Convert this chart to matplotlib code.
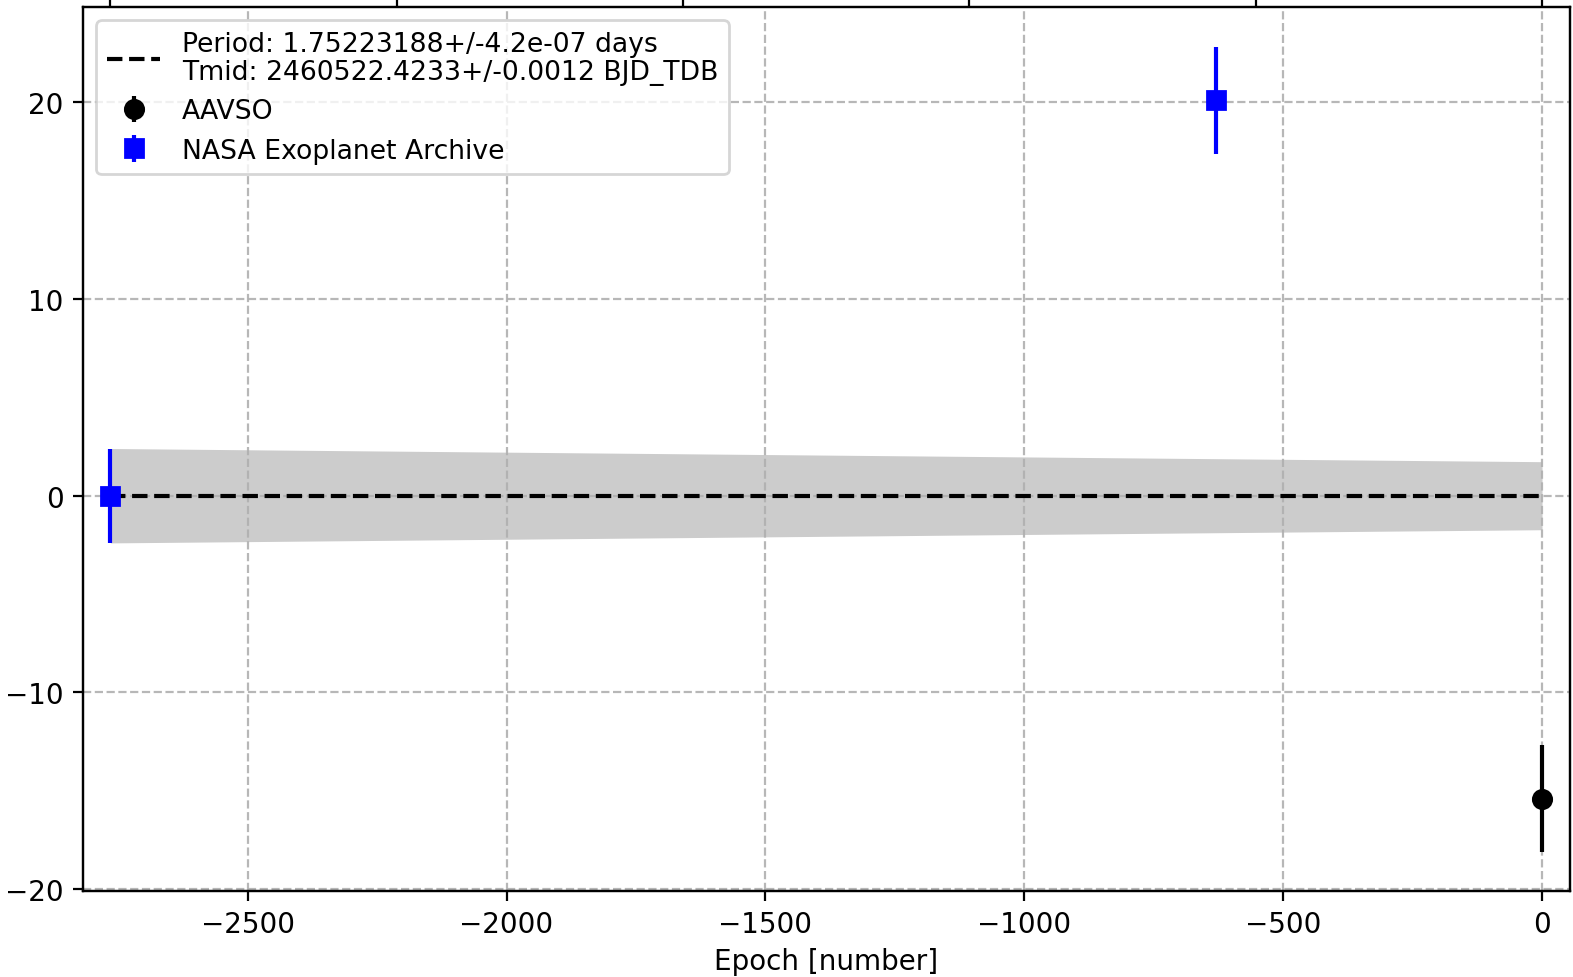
"""O-C diagram for the transit ephemeris fit."""

import matplotlib

matplotlib.use("Agg")
import matplotlib.pyplot as plt
import numpy as np

# observations (epoch, O-C in minutes, 1-sigma error in minutes)
aavso_epoch = [0]
aavso_oc = [-15.4]
aavso_err = [2.7]

nasa_epoch = [-2765, -629]
nasa_oc = [0.0, 20.1]
nasa_err = [2.4, 2.7]

# ephemeris uncertainty envelope at the ends of the data span
band_epoch = [-2765, 0]
band_half = [2.40, 1.73]

fit_label = "Period: 1.75223188+/-4.2e-07 days\nTmid: 2460522.4233+/-0.0012 BJD_TDB"
top_ticks = np.linspace(-2765, 0, 6)

fig = plt.figure(figsize=(1573 / 200, 978 / 200), dpi=200)
W, H = 1573, 978
ax = fig.add_axes([83 / W, (H - 892) / H, (1570 - 83) / W, (892 - 8) / H])

band_lo = [-h for h in band_half]
ax.fill_between(band_epoch, band_lo, band_half, color="gray", alpha=0.4, lw=0)
ax.plot(band_epoch, [0, 0], "k--", lw=1.5, label=fit_label)
ax.errorbar(aavso_epoch, aavso_oc, yerr=aavso_err, fmt="ko", ms=6.6, label="AAVSO")
ax.errorbar(nasa_epoch, nasa_oc, yerr=nasa_err, fmt="bs", ms=6.6, label="NASA Exoplanet Archive")

ax.set_xlim(-2818, 54)
ax.set_ylim(-20.1, 24.85)
ax.set_yticks([-20, -10, 0, 10, 20])
ax.set_xlabel("Epoch [number]", labelpad=3)
ax.grid(True, ls="--", color="#b0b0b0", alpha=0.9)
leg = ax.legend(loc="upper left", fontsize=9.6, labelspacing=0.5)
for t in leg.get_texts():
    t.set_linespacing(1.1)

top = ax.twiny()
top.set_xlim(ax.get_xlim())
top.set_xticks(top_ticks)
top.set_xticklabels([""] * len(top_ticks))

fig.savefig("out.png", dpi=200, facecolor="white")
